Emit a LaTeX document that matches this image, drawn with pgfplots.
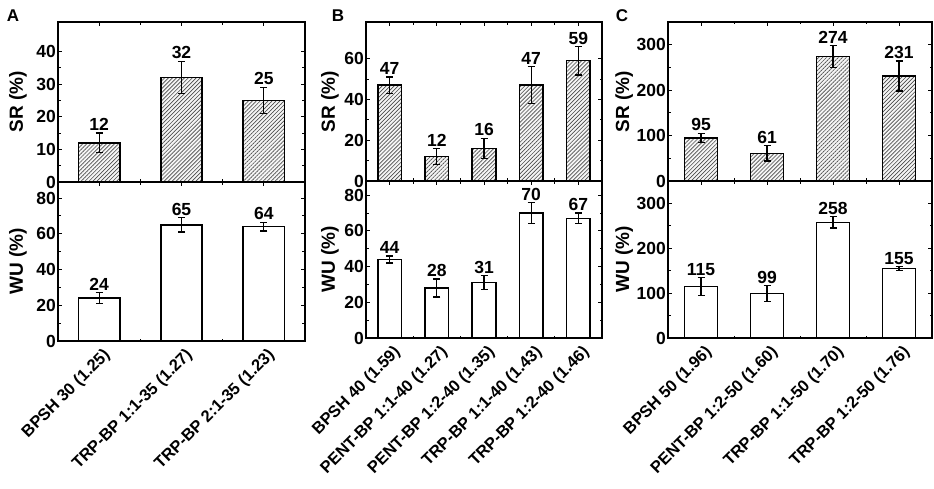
\documentclass[border=0pt]{standalone}
\usepackage{pgfplots}
\usepackage{pgfplotstable}
\pgfplotsset{compat=1.18}
\usetikzlibrary{patterns.meta}
\usepackage{fontspec}
\setmainfont{Liberation Sans}
\setsansfont{Liberation Sans}

\pgfplotstableread{
x y e
0 12 3
1 32 5
2 25 4
}\ASR
\pgfplotstableread{
x y e
0 24 3
1 65 4
2 64 2.5
}\AWU
\pgfplotstableread{
x y e
0 47 4
1 12 4
2 16 5
3 47 9
4 59 7
}\BSR
\pgfplotstableread{
x y e
0 44 2
1 28 5
2 31 4
3 70 6
4 67 3
}\BWU
\pgfplotstableread{
x y e
0 95 10
1 61 17
2 274 24
3 231 33
}\CSR
\pgfplotstableread{
x y e
0 115 20
1 99 18
2 258 13
3 155 4
}\CWU

\pgfplotsset{
  common/.style={
    scale only axis, anchor=south west, clip=false,
    xmin=-0.5, ymin=0,
    axis line style={line width=1.5pt},
    every tick/.style={line width=1pt, black},
    major tick length=4pt, minor tick length=2.5pt,
    tick align=inside,
    minor x tick num=1, minor y tick num=1,
    tick label style={font=\fontsize{17.5}{17.5}\selectfont\bfseries},
    yticklabel style={inner sep=2pt},
    ylabel style={font=\fontsize{19}{19}\selectfont\bfseries, yshift=-2pt},
    /pgf/number format/assume math mode=true,
    xticklabel style={rotate=45, anchor=north east, font=\fontsize{16.5}{16.5}\selectfont\bfseries, yshift=-3pt, xshift=1pt},
  },
  hatchbar/.style={ybar, bar width=0.5, draw=black, line width=1.5pt, fill=gray!8,
    postaction={pattern color=black!70, pattern={Lines[angle=45,distance=2.8pt,line width=0.65pt]}},
    error bars/.cd, y dir=both, y explicit,
    error bar style={line width=1.3pt, black},
    error mark options={rotate=90, mark size=3.5pt, line width=1.3pt, black}},
  openbar/.style={ybar, bar width=0.5, draw=black, line width=1.5pt, fill=white,
    error bars/.cd, y dir=both, y explicit,
    error bar style={line width=1.3pt, black},
    error mark options={rotate=90, mark size=3.5pt, line width=1.3pt, black}},
  vals/.style={draw=none, mark=none, nodes near coords, point meta=explicit,
    nodes near coords style={font=\fontsize{17.5}{17.5}\selectfont\bfseries, anchor=south, inner sep=2pt, black}},
}

\begin{document}
\begin{tikzpicture}
\useasboundingbox (0,0) rectangle (934pt,488pt);

% Panel A
\begin{axis}[common, at={(58pt,306pt)}, width=247pt, height=160pt,
  xmax=2.5, xtick={0,1,2}, xticklabels={}, ymax=49, ytick={0,10,20,30,40}, ylabel={SR (\%)},
  ylabel style={yshift=6pt}]
\addplot[hatchbar] table[x=x,y=y,y error=e] {\ASR};
\addplot[vals] table[x=x, y expr=\thisrow{y}+\thisrow{e}, meta=y] {\ASR};
\end{axis}
\begin{axis}[common, at={(58pt,147pt)}, width=247pt, height=159pt,
  xmax=2.5, xtick={0,1,2}, xticklabels={BPSH 30 (1.25), TRP-BP 1:1-35 (1.27), TRP-BP 2:1-35 (1.23)},
  ymax=89, ytick={0,20,40,60,80}, ylabel={WU (\%)}, ylabel style={yshift=6pt}]
\addplot[openbar] table[x=x,y=y,y error=e] {\AWU};
\addplot[vals] table[x=x, y expr=\thisrow{y}+\thisrow{e}, meta=y] {\AWU};
\end{axis}

% Panel B
\begin{axis}[common, at={(366pt,307pt)}, width=236pt, height=159pt,
  xmax=4.5, xtick={0,1,2,3,4}, xticklabels={}, ymax=78, ytick={0,20,40,60}, ylabel={SR (\%)},
  ylabel style={yshift=2pt}]
\addplot[hatchbar] table[x=x,y=y,y error=e] {\BSR};
\addplot[vals] table[x=x, y expr=\thisrow{y}+\thisrow{e}, meta=y] {\BSR};
\end{axis}
\begin{axis}[common, at={(366pt,150pt)}, width=236pt, height=157pt,
  xmax=4.5, xtick={0,1,2,3,4}, xticklabels={BPSH 40 (1.59), PENT-BP 1:1-40 (1.27), PENT-BP 1:2-40 (1.35), TRP-BP 1:1-40 (1.43), TRP-BP 1:2-40 (1.46)},
  ymax=88, ytick={0,20,40,60,80}, ylabel={WU (\%)}, ylabel style={yshift=2pt}]
\addplot[openbar] table[x=x,y=y,y error=e] {\BWU};
\addplot[vals] table[x=x, y expr=\thisrow{y}+\thisrow{e}, meta=y] {\BWU};
\end{axis}

% Panel C
\begin{axis}[common, at={(668pt,307pt)}, width=264pt, height=159pt,
  xmax=3.5, xtick={0,1,2,3}, xticklabels={}, ymax=350, ytick={0,100,200,300}, ylabel={SR (\%)}]
\addplot[hatchbar] table[x=x,y=y,y error=e] {\CSR};
\addplot[vals] table[x=x, y expr=\thisrow{y}+\thisrow{e}, meta=y] {\CSR};
\end{axis}
\begin{axis}[common, at={(668pt,150pt)}, width=264pt, height=157pt,
  xmax=3.5, xtick={0,1,2,3}, xticklabels={BPSH 50 (1.96), PENT-BP 1:2-50 (1.60), TRP-BP 1:1-50 (1.70), TRP-BP 1:2-50 (1.76)},
  ymax=350, ytick={0,100,200,300}, ylabel={WU (\%)}]
\addplot[openbar] table[x=x,y=y,y error=e] {\CWU};
\addplot[vals] table[x=x, y expr=\thisrow{y}+\thisrow{e}, meta=y] {\CWU};
\end{axis}

\node[font=\fontsize{17}{17}\selectfont\bfseries] at (13pt,472pt) {A};
\node[font=\fontsize{17}{17}\selectfont\bfseries] at (338pt,472pt) {B};
\node[font=\fontsize{17}{17}\selectfont\bfseries] at (622pt,472pt) {C};
\end{tikzpicture}
\end{document}
